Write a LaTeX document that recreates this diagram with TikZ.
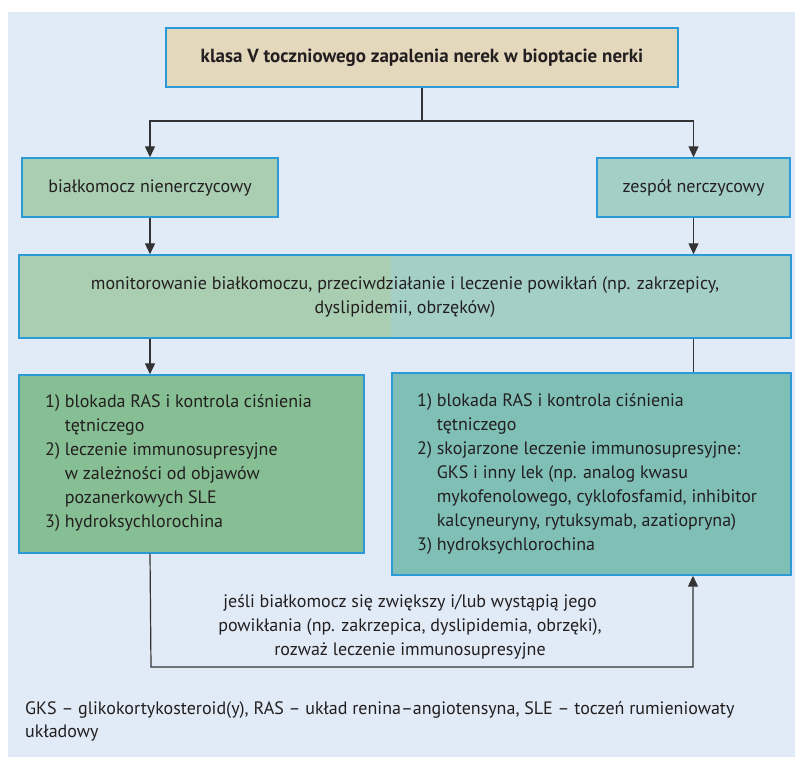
\documentclass[tikz,border=0pt]{standalone}
\usepackage{fontspec}
\setmainfont{PT Sans}
\usetikzlibrary{arrows.meta}
\definecolor{bgblue}{HTML}{E0EBF7}
\definecolor{tanfill}{HTML}{E3D7BC}
\definecolor{greenlight}{HTML}{A9CEB2}
\definecolor{teallight}{HTML}{A4CFC9}
\definecolor{greendark}{HTML}{86BF93}
\definecolor{tealdark}{HTML}{7FBFB6}
\definecolor{boxedge}{HTML}{2B9AD6}
\definecolor{linegray}{HTML}{333333}
\definecolor{inkgray}{HTML}{231F20}
\tikzset{
  box/.style={draw=boxedge, line width=1.4pt, inner sep=0pt, text=inkgray,
    font=\fontsize{18}{24}\selectfont},
  txt/.style={inner sep=0pt, text=inkgray, font=\fontsize{18}{24}\selectfont},
  conn/.style={draw=linegray, line width=1.2pt},
  arr/.style={conn, -{Triangle[length=11pt,width=10pt]}},
}
\newcommand{\hang}{\hphantom{1)\ }}
\begin{document}
\begin{tikzpicture}[x=1pt,y=-1pt]
  % canvas and tinted background
  \useasboundingbox (0,0) rectangle (795,757);
  \fill[bgblue] (8,12) rectangle (795,757);

  % boxes
  \node[box, fill=tanfill, minimum width=512pt, minimum height=59pt,
        font=\bfseries\fontsize{19}{24}\selectfont] (top) at (422,57.5)
    {klasa V toczniowego zapalenia nerek w bioptacie nerki};
  \node[box, fill=greenlight, minimum width=256pt, minimum height=59pt] (nonneph) at (150,187.5)
    {białkomocz nienerczycowy};
  \node[box, fill=teallight, minimum width=193pt, minimum height=59pt] (neph) at (693.5,187.5)
    {zespół nerczycowy};
  \node[box, fill=teallight, minimum width=772pt, minimum height=83pt, align=center,
        path picture={\fill[greenlight] (path picture bounding box.north west)
          rectangle ([xshift=-14pt]path picture bounding box.south);}] (monitor) at (405,296.5)
    {monitorowanie białkomoczu, przeciwdziałanie i leczenie powikłań (np. zakrzepicy,\\
     dyslipidemii, obrzęków)};
  \node[box, fill=greendark, minimum width=345pt, minimum height=178pt] (treatL) at (191.5,464) {};
  \node[box, fill=tealdark, minimum width=399pt, minimum height=202pt] (treatR) at (591.5,474) {};

  % list texts
  \node[txt, anchor=west, align=left] (listL) at (45,463)
    {1) blokada RAS i kontrola ciśnienia\\
     \hang tętniczego\\
     2) leczenie immunosupresyjne\\
     \hang w zależności od objawów\\
     \hang pozanerkowych SLE\\
     3) hydroksychlorochina};
  \node[txt, anchor=west, align=left] (listR) at (417,474)
    {1) blokada RAS i kontrola ciśnienia\\
     \hang tętniczego\\
     2) skojarzone leczenie immunosupresyjne:\\
     \hang GKS i inny lek (np. analog kwasu\\
     \hang mykofenolowego, cyklofosfamid, inhibitor\\
     \hang kalcyneuryny, rytuksymab, azatiopryna)\\
     3) hydroksychlorochina};

  % connectors
  \coordinate (split) at (422,121);
  \draw[conn] (top.south) -- (split);
  \draw[arr] (split) -| (nonneph.north);
  \draw[arr] (split) -| (neph.north);
  \draw[arr] (nonneph.south) -- (nonneph.south |- monitor.north);
  \draw[arr] (neph.south) -- (neph.south |- monitor.north);
  \draw[arr] (monitor.south -| nonneph.south) -- (nonneph.south |- treatL.north);
  \draw[conn] (monitor.south -| neph.south) -- (neph.south |- treatR.north);
  \coordinate (loopL) at (151,667);
  \coordinate (loopR) at (693,667);
  \draw[arr] (nonneph.south |- treatL.south) -- (loopL) -- (loopR) -- (loopR |- treatR.south);

  % loop label
  \node[txt, align=center] (cond) at (410,627)
    {jeśli białkomocz się zwiększy i/lub wystąpią jego\\
     powikłania (np. zakrzepica, dyslipidemia, obrzęki),\\
     rozważ leczenie immunosupresyjne};

  % abbreviations
  \node[txt, anchor=west, align=left, font=\fontsize{18}{23}\selectfont] (abbr) at (25,721)
    {GKS – glikokortykosteroid(y), RAS – układ renina–angiotensyna, SLE – toczeń rumieniowaty\\
     układowy};
\end{tikzpicture}
\end{document}
